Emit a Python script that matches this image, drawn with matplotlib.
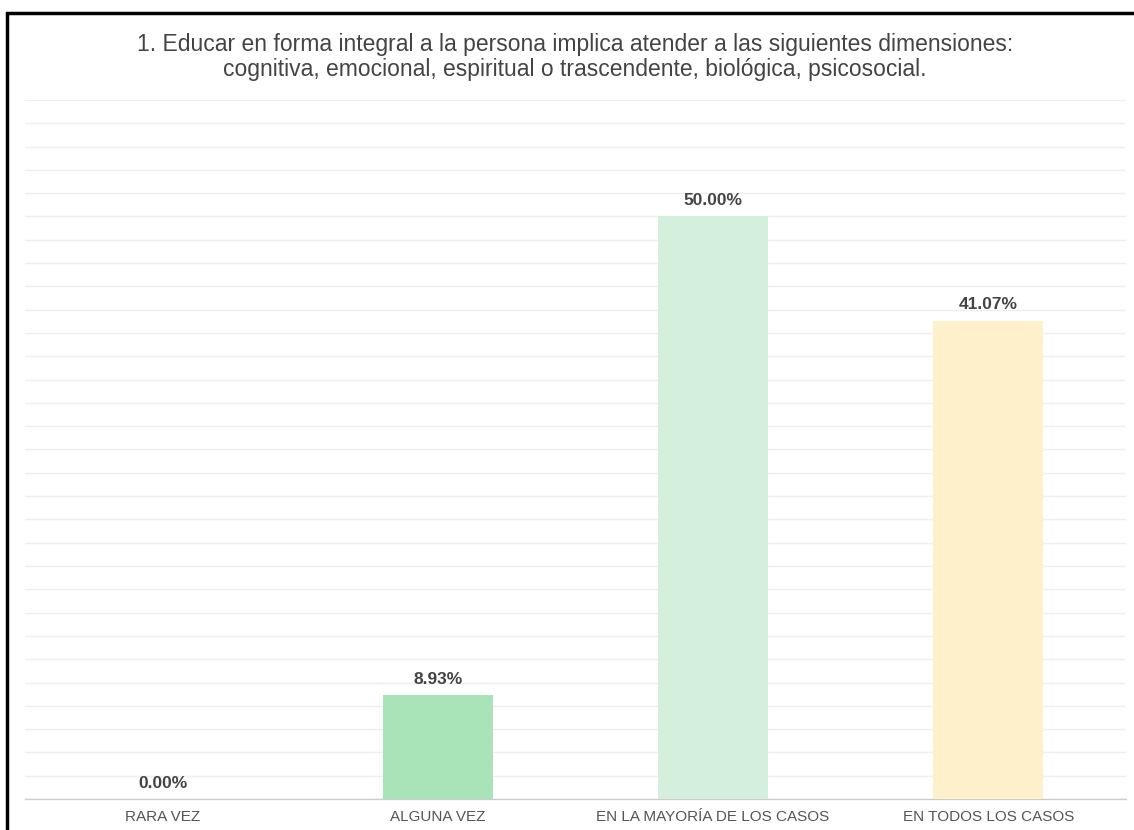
import matplotlib
matplotlib.use("Agg")
import matplotlib.pyplot as plt
from matplotlib.patches import Rectangle

categories = ["RARA VEZ", "ALGUNA VEZ", "EN LA MAYORÍA DE LOS CASOS", "EN TODOS LOS CASOS"]
values = [0.00, 8.93, 50.00, 41.07]
colors = ["#a8e4b8", "#a8e4b8", "#d4f0dc", "#fff0cc"]
title = ("1. Educar en forma integral a la persona implica atender a las siguientes dimensiones:\n"
         "cognitiva, emocional, espiritual o trascendente, biológica, psicosocial.")

plt.rcParams['font.family'] = ['Liberation Sans', 'DejaVu Sans']

fig = plt.figure(figsize=(11.34, 8.30), dpi=100)
ax = fig.add_axes([25/1134, 31/830, 1101/1134, 699/830])

x = list(range(len(categories)))
ax.bar(x, values, width=0.4, color=colors, zorder=3)
for xi, v in zip(x, values):
    ax.annotate(f"{v:.2f}%", (xi, v), xytext=(0, 6), textcoords="offset points",
                ha="center", va="bottom", fontsize=12.5, fontweight="bold", color="#444444")

ax.set_xlim(-0.5, len(categories) - 0.5)
ax.set_ylim(0, 60)
ax.set_yticks(range(0, 61, 2))
ax.yaxis.grid(True, color="#efefef", linewidth=1, zorder=0)
ax.tick_params(axis="y", left=False, labelleft=False)
ax.set_xticks(x)
ax.set_xticklabels(categories, fontsize=11, color="#555555")
ax.tick_params(axis="x", length=0, pad=8)
for s in ["top", "right", "left"]:
    ax.spines[s].set_visible(False)
ax.spines["bottom"].set_color("#cccccc")
ax.spines["bottom"].set_linewidth(1)

fig.text(575/1134, 1 - 57/830, title, ha="center", va="center", fontsize=16.5,
         color="#444444", linespacing=1.1)

fig.patches.append(Rectangle((7/1134, -0.1), 1.2, 1 - 13/830 + 0.1, transform=fig.transFigure,
                             fill=False, edgecolor="black", linewidth=2.5, clip_on=False))

fig.savefig("out.png", dpi=100)
